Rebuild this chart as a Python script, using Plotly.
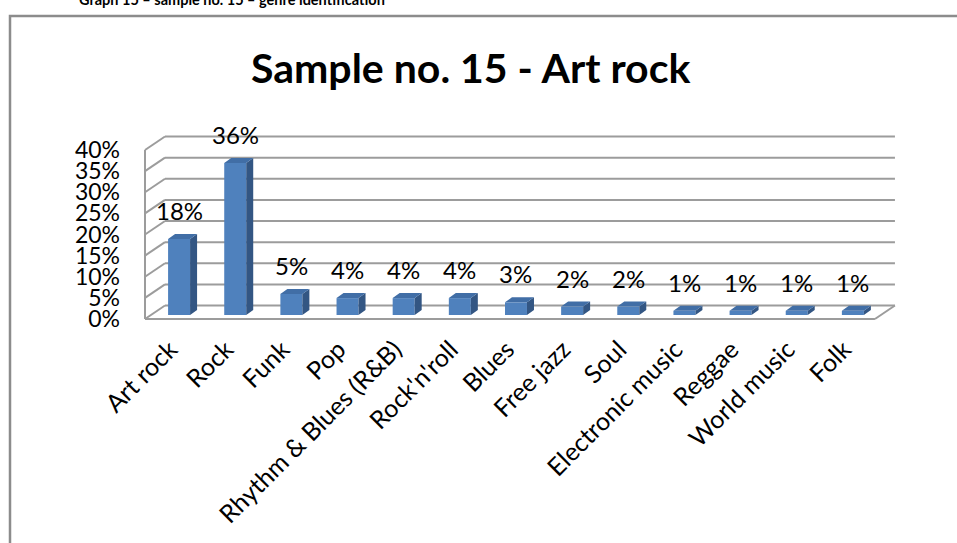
import plotly.graph_objects as go

# ---- data -------------------------------------------------------------
genres = ["Art rock", "Rock", "Funk", "Pop", "Rhythm & Blues (R&B)",
          "Rock'n'roll", "Blues", "Free jazz", "Soul", "Electronic music",
          "Reggae", "World music", "Folk"]
shares = [18, 36, 5, 4, 4, 4, 3, 2, 2, 1, 1, 1, 1]
y_ticks = [0, 5, 10, 15, 20, 25, 30, 35, 40]
y_tick_text = [f"{t}%" for t in y_ticks]

chart_title = "Sample no. 15 - Art rock"
caption = "Graph 15 \u2013 sample no. 15 \u2013 genre identification"

# ---- geometry of the pseudo-3D box -----------------------------------
W, H = 957, 543
PX_X = 56.15      # pixels per category slot
PX_Y = 4.225      # pixels per percentage point
X_LEFT_PX, Y_ZERO_PX = 145, 319   # front-left-bottom corner of the box
x0 = -0.5 - X_LEFT_PX / PX_X
x_range = [x0, x0 + W / PX_X]
y_range = [-(H - Y_ZERO_PX) / PX_Y, Y_ZERO_PX / PX_Y]

WALL_DX, WALL_DY = 20 / PX_X, 13.5 / PX_Y    # depth of the box
BAR_DX, BAR_DY = 6 / PX_X, 4 / PX_Y          # where the column fronts sit
DEP_X, DEP_Y = 7 / PX_X, 5 / PX_Y            # depth of each column
BAR_W = 22 / PX_X
LABEL_SHIFT = 9 / PX_X                       # pulls rotated labels under the columns

FONT = "Lato"
GRID = "#9c9c9c"
FRONT, TOP, SIDE = "#4f81bd", "#416ea6", "#335683"

n = len(genres)
x_first, x_last = -0.5, n - 0.5

fig = go.Figure()

# walls: back-wall gridlines with their diagonals on the left wall
grid_line = dict(color=GRID, width=2)
for v in y_ticks:
    fig.add_shape(type="line", xref="x", yref="y", layer="below",
                  x0=x_first, y0=v, x1=x_first + WALL_DX, y1=v + WALL_DY,
                  line=grid_line)
    fig.add_shape(type="line", xref="x", yref="y", layer="below",
                  x0=x_first + WALL_DX, y0=v + WALL_DY,
                  x1=x_last + WALL_DX, y1=v + WALL_DY, line=grid_line)
# front-left edge, floor front edge and floor right edge
fig.add_shape(type="line", xref="x", yref="y", layer="below",
              x0=x_first, y0=y_ticks[0], x1=x_first, y1=y_ticks[-1],
              line=grid_line)
fig.add_shape(type="line", xref="x", yref="y", layer="below",
              x0=x_first, y0=0, x1=x_last, y1=0, line=grid_line)
fig.add_shape(type="line", xref="x", yref="y", layer="below",
              x0=x_last, y0=0, x1=x_last + WALL_DX, y1=WALL_DY,
              line=grid_line)

# column fronts
bar_x = [i + BAR_DX for i in range(n)]
fig.add_trace(go.Bar(x=bar_x, y=shares, base=BAR_DY, width=BAR_W,
                     marker=dict(color=FRONT, line=dict(width=0)),
                     hoverinfo="skip", showlegend=False))

# column sides and tops
sx, sy, tx, ty = [], [], [], []
for xc, v in zip(bar_x, shares):
    xl, xr = xc - BAR_W / 2, xc + BAR_W / 2
    top = BAR_DY + v
    sx += [xr, xr + DEP_X, xr + DEP_X, xr, xr, None]
    sy += [BAR_DY, BAR_DY + DEP_Y, top + DEP_Y, top, BAR_DY, None]
    tx += [xl, xl + DEP_X, xr + DEP_X, xr, xl, None]
    ty += [top, top + DEP_Y, top + DEP_Y, top, top, None]
fig.add_trace(go.Scatter(x=sx, y=sy, mode="lines", fill="toself",
                         fillcolor=SIDE, line=dict(width=0, color=SIDE),
                         hoverinfo="skip", showlegend=False))
fig.add_trace(go.Scatter(x=tx, y=ty, mode="lines", fill="toself",
                         fillcolor=TOP, line=dict(width=0, color=TOP),
                         hoverinfo="skip", showlegend=False))

# value labels above the columns
for xc, v in zip(bar_x, shares):
    fig.add_annotation(x=xc, y=BAR_DY + v, text=f"{v}%", showarrow=False,
                       xanchor="center", yanchor="bottom", yshift=12,
                       font=dict(family=FONT, size=24, color="#000"))

# chart title and the caption above the chart frame
fig.add_annotation(xref="paper", yref="paper", x=470 / W, y=1 - 67 / H,
                   text=f"<b>{chart_title}</b>", showarrow=False,
                   xanchor="center", yanchor="middle",
                   font=dict(family=FONT, size=41, color="#000"))
fig.add_annotation(xref="paper", yref="paper", x=77 / W, y=1,
                   text=f"<b>{caption}</b>", showarrow=False,
                   xanchor="left", yanchor="middle", yshift=1,
                   font=dict(family=FONT, size=14.5, color="#000"))

# chart frame (runs off the right and bottom edges)
fig.add_shape(type="rect", xref="paper", yref="paper",
              x0=10 / W, x1=1.05, y0=-0.05, y1=1 - 16 / H,
              line=dict(color="#8c8c8c", width=2.5), fillcolor="rgba(0,0,0,0)",
              layer="below")

fig.update_layout(
    width=W, height=H,
    margin=dict(l=0, r=0, t=0, b=0),
    paper_bgcolor="white", plot_bgcolor="white",
    showlegend=False,
    xaxis=dict(range=x_range, domain=[0, 1], anchor="free",
               position=1 - Y_ZERO_PX / H,
               showgrid=False, zeroline=False, showline=False,
               tickmode="array", tickvals=[x - LABEL_SHIFT for x in bar_x],
               ticktext=genres,
               tickangle=-45, ticks="", ticklabelstandoff=10,
               tickfont=dict(family=FONT, size=25, color="#000"),
               fixedrange=True),
    yaxis=dict(range=y_range, domain=[0, 1], anchor="free",
               position=X_LEFT_PX / W,
               showgrid=False, zeroline=False, showline=False,
               tickmode="array", tickvals=y_ticks, ticktext=y_tick_text,
               ticks="", ticklabelstandoff=25,
               tickfont=dict(family=FONT, size=23, color="#000"),
               fixedrange=True),
)

fig.write_html("out.html")
